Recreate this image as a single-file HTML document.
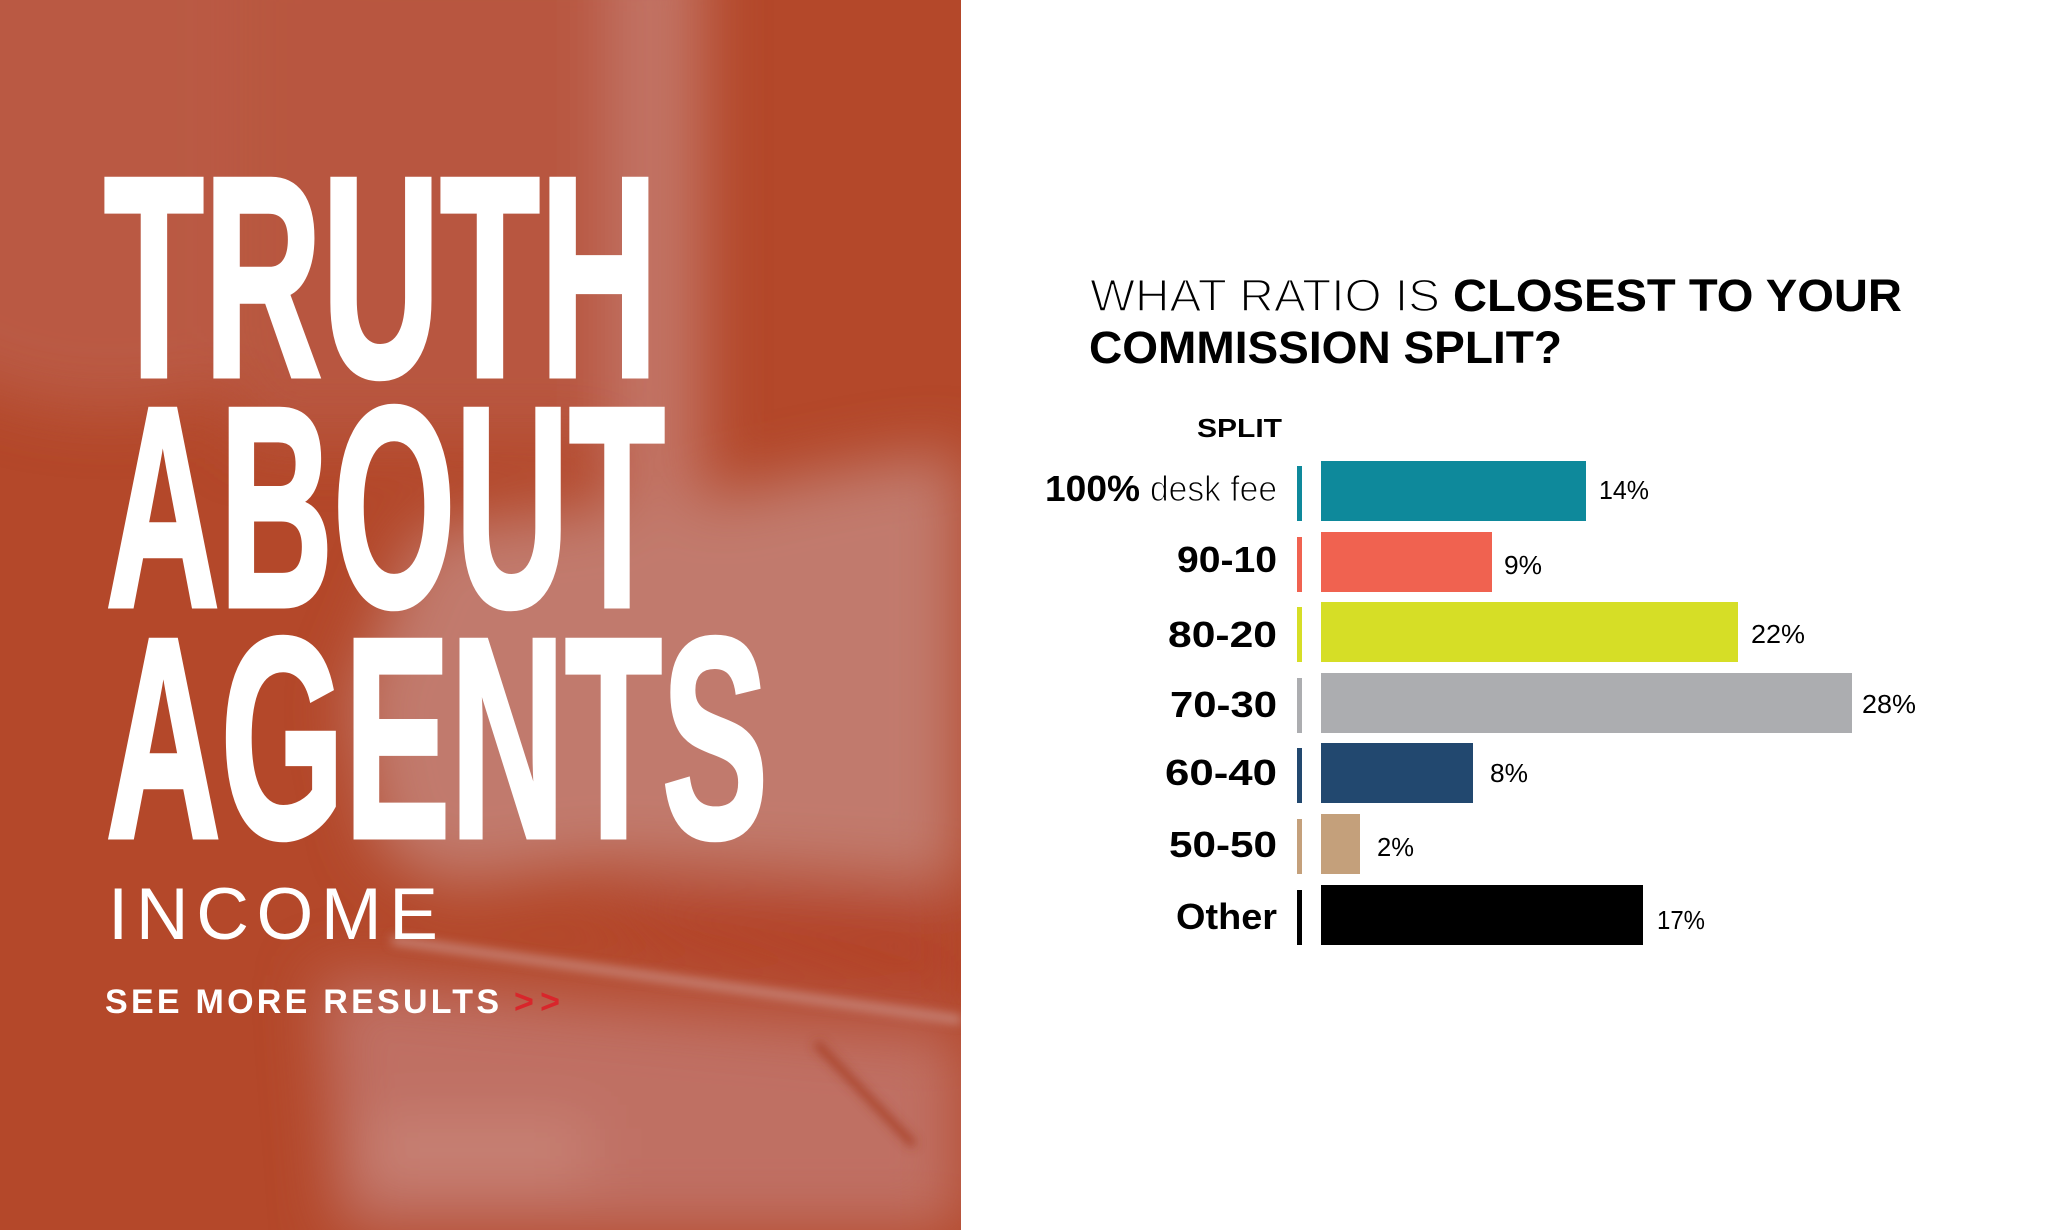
<!DOCTYPE html>
<html><head><meta charset="utf-8"><style>
html,body{margin:0;padding:0;background:#fff;width:2048px;height:1230px;overflow:hidden}
svg{display:block}
</style></head><body>
<svg width="2048" height="1230" viewBox="0 0 2048 1230" xmlns="http://www.w3.org/2000/svg">
<defs>
<filter id="b" x="-50%" y="-50%" width="200%" height="200%"><feGaussianBlur stdDeviation="30"/></filter>
<filter id="s" x="-20%" y="-20%" width="140%" height="140%"><feGaussianBlur stdDeviation="5"/></filter>
<clipPath id="p"><rect x="0" y="0" width="961" height="1230"/></clipPath>
</defs>
<rect width="2048" height="1230" fill="#fff"/>
<g clip-path="url(#p)">
<rect width="961" height="1230" fill="#b4482a"/>
<g filter="url(#b)">
<ellipse cx="110" cy="130" rx="320" ry="280" fill="#bb5e4a" opacity=".8"/>
<rect x="240" y="-60" width="380" height="500" fill="#b8563f"/>
<rect x="612" y="-60" width="90" height="600" fill="#c27466"/>
<polygon points="420,530 560,510 700,500 800,478 880,462 961,452 961,885 800,875 600,865 450,885 380,850 350,700" fill="#c17a6d"/>
<polygon points="600,895 961,902 961,1012 650,945" fill="#b3452a"/>
<polygon points="320,975 961,1035 961,1230 340,1230" fill="#bf7064"/>
<rect x="366" y="1125" width="222" height="50" fill="#c98578"/>
</g>
<line x1="392" y1="940" x2="961" y2="1020" stroke="#c8877b" stroke-width="8" filter="url(#s)"/>
<line x1="816" y1="1043" x2="914" y2="1145" stroke="#a8432c" stroke-width="8" filter="url(#s)"/>
</g>

<g font-family="Liberation Sans, Arial, sans-serif" fill="#fff">
<text x="104" y="376" font-size="286" font-weight="700" stroke="#fff" stroke-width="5" textLength="554" lengthAdjust="spacingAndGlyphs">TRUTH</text>
<text x="106" y="606" font-size="286" font-weight="700" stroke="#fff" stroke-width="5" textLength="559" lengthAdjust="spacingAndGlyphs">ABOUT</text>
<text x="106" y="837" font-size="286" font-weight="700" stroke="#fff" stroke-width="5" textLength="662" lengthAdjust="spacingAndGlyphs">AGENTS</text>
<text x="108" y="939" font-size="73" font-weight="400" textLength="330" lengthAdjust="spacing">INCOME</text>
<text x="105" y="1013" font-size="34" font-weight="700" textLength="394" lengthAdjust="spacing">SEE MORE RESULTS</text>
<text x="514" y="1013" font-size="34" font-weight="700" fill="#d8262b" textLength="46" lengthAdjust="spacing">&gt;&gt;</text>
</g>

<g font-family="Liberation Sans, Arial, sans-serif" fill="#000">
<text x="1090" y="311" font-size="45" font-weight="400" stroke="#fff" stroke-width="1.6" textLength="350" lengthAdjust="spacingAndGlyphs">WHAT RATIO IS</text>
<text x="1453" y="311" font-size="45" font-weight="700" textLength="449" lengthAdjust="spacingAndGlyphs">CLOSEST TO YOUR</text>
<text x="1089" y="363" font-size="45" font-weight="700" textLength="473" lengthAdjust="spacingAndGlyphs">COMMISSION SPLIT?</text>

<text x="1197" y="437" font-size="26" font-weight="700" textLength="85" lengthAdjust="spacingAndGlyphs">SPLIT</text>

<text x="1045" y="501" font-size="36" font-weight="700" textLength="95" lengthAdjust="spacingAndGlyphs">100%</text>
<text x="1150" y="501" font-size="36" font-weight="400" stroke="#fff" stroke-width="1.1" textLength="127" lengthAdjust="spacingAndGlyphs">desk fee</text>
<text x="1177" y="572" font-size="36" font-weight="700" textLength="100" lengthAdjust="spacingAndGlyphs">90-10</text>
<text x="1168" y="647" font-size="36" font-weight="700" textLength="109" lengthAdjust="spacingAndGlyphs">80-20</text>
<text x="1170" y="717" font-size="36" font-weight="700" textLength="107" lengthAdjust="spacingAndGlyphs">70-30</text>
<text x="1165" y="785" font-size="36" font-weight="700" textLength="112" lengthAdjust="spacingAndGlyphs">60-40</text>
<text x="1169" y="857" font-size="36" font-weight="700" textLength="108" lengthAdjust="spacingAndGlyphs">50-50</text>
<text x="1176" y="929" font-size="36" font-weight="700" textLength="101" lengthAdjust="spacingAndGlyphs">Other</text>

<!-- ticks -->
<rect x="1297" y="466" width="5" height="55" fill="#0e899b"/>
<rect x="1297" y="537" width="5" height="55" fill="#f06250"/>
<rect x="1297" y="607" width="5" height="55" fill="#d6de26"/>
<rect x="1297" y="678" width="5" height="55" fill="#acadb0"/>
<rect x="1297" y="748" width="5" height="55" fill="#22486f"/>
<rect x="1297" y="819" width="5" height="55" fill="#c4a07b"/>
<rect x="1297" y="890" width="5" height="55" fill="#000"/>

<!-- bars -->
<rect x="1321" y="461" width="265" height="60" fill="#0e899b"/>
<rect x="1321" y="532" width="171" height="60" fill="#f06250"/>
<rect x="1321" y="602" width="417" height="60" fill="#d6de26"/>
<rect x="1321" y="673" width="531" height="60" fill="#acadb0"/>
<rect x="1321" y="743" width="152" height="60" fill="#22486f"/>
<rect x="1321" y="814" width="39" height="60" fill="#c4a07b"/>
<rect x="1321" y="885" width="322" height="60" fill="#000"/>

<!-- value labels -->
<text x="1599" y="499" font-size="26" textLength="50" lengthAdjust="spacingAndGlyphs">14%</text>
<text x="1504" y="574" font-size="26" textLength="38" lengthAdjust="spacingAndGlyphs">9%</text>
<text x="1751" y="643" font-size="26" textLength="54" lengthAdjust="spacingAndGlyphs">22%</text>
<text x="1862" y="713" font-size="26" textLength="54" lengthAdjust="spacingAndGlyphs">28%</text>
<text x="1490" y="782" font-size="26" textLength="38" lengthAdjust="spacingAndGlyphs">8%</text>
<text x="1377" y="856" font-size="26" textLength="37" lengthAdjust="spacingAndGlyphs">2%</text>
<text x="1657" y="929" font-size="26" textLength="48" lengthAdjust="spacingAndGlyphs">17%</text>
</g>
</svg>
</body></html>
